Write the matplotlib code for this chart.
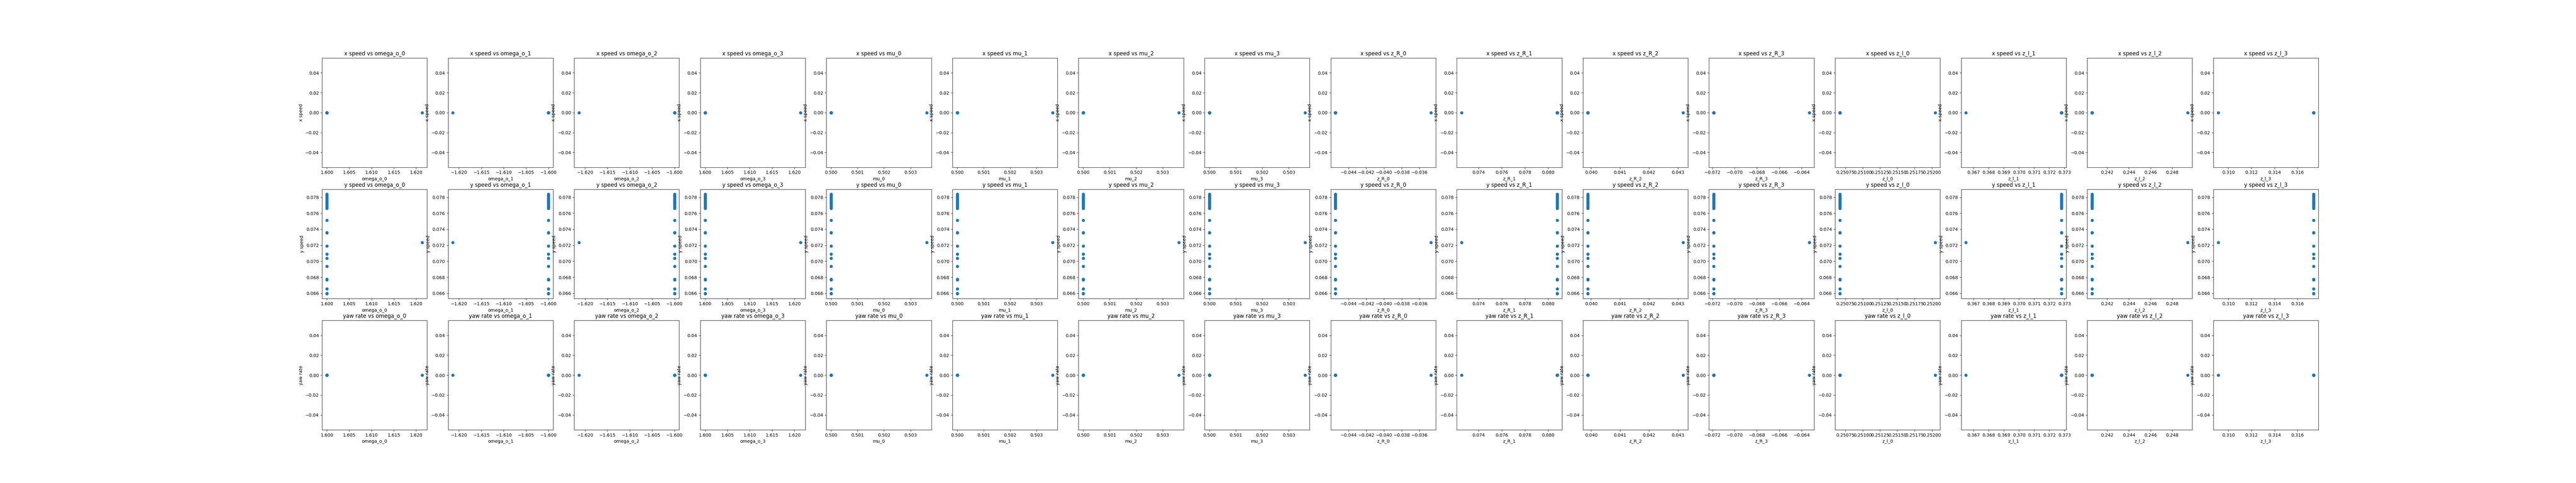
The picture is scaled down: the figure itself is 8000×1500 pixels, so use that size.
import numpy as np
import matplotlib
matplotlib.use("Agg")
import matplotlib.pyplot as plt

# input parameters (one column of plots each)
param_names = ["omega_o_0", "omega_o_1", "omega_o_2", "omega_o_3",
               "mu_0", "mu_1", "mu_2", "mu_3",
               "z_R_0", "z_R_1", "z_R_2", "z_R_3",
               "z_l_0", "z_l_1", "z_l_2", "z_l_3"]

# value used in most runs, and value used in the one differing run
base_values = [1.6, -1.6, -1.6, 1.6,
               0.5, 0.5, 0.5, 0.5,
               -0.04546, 0.08078, 0.03988, -0.07187,
               0.25067, 0.37280, 0.24059, 0.31739]
varied_values = [1.62137, -1.62137, -1.62137, 1.62137,
                 0.50361, 0.50361, 0.50361, 0.50361,
                 -0.03468, 0.07254, 0.04318, -0.06332,
                 0.25205, 0.36649, 0.24942, 0.30911]

# y speed for the base runs, then the differing run
y_speed_base = [0.07838, 0.07832, 0.07820, 0.07805, 0.07795, 0.07785,
                0.07770, 0.07755, 0.07742, 0.07735, 0.07725, 0.07710,
                0.07695, 0.07688, 0.07675, 0.07662,
                0.07513, 0.07360, 0.07354, 0.07191, 0.07090, 0.07038,
                0.06937, 0.06776, 0.06768, 0.06655, 0.06600, 0.06596]
y_speed_varied = 0.07236

outputs = ["x speed", "y speed", "yaw rate"]

n_base = len(y_speed_base)
y_speed = np.array(y_speed_base + [y_speed_varied])
x_speed = np.zeros(n_base + 1)
yaw_rate = np.zeros(n_base + 1)
out_data = {"x speed": x_speed, "y speed": y_speed, "yaw rate": yaw_rate}

fig, axes = plt.subplots(3, len(param_names), figsize=(80, 15), dpi=100)

for j, name in enumerate(param_names):
    x = np.array([base_values[j]] * n_base + [varied_values[j]])
    for i, out in enumerate(outputs):
        ax = axes[i, j]
        ax.scatter(x, out_data[out])
        ax.set_title(out + " vs " + name)
        ax.set_xlabel(name)
        ax.set_ylabel(out)

plt.savefig("out.png")
